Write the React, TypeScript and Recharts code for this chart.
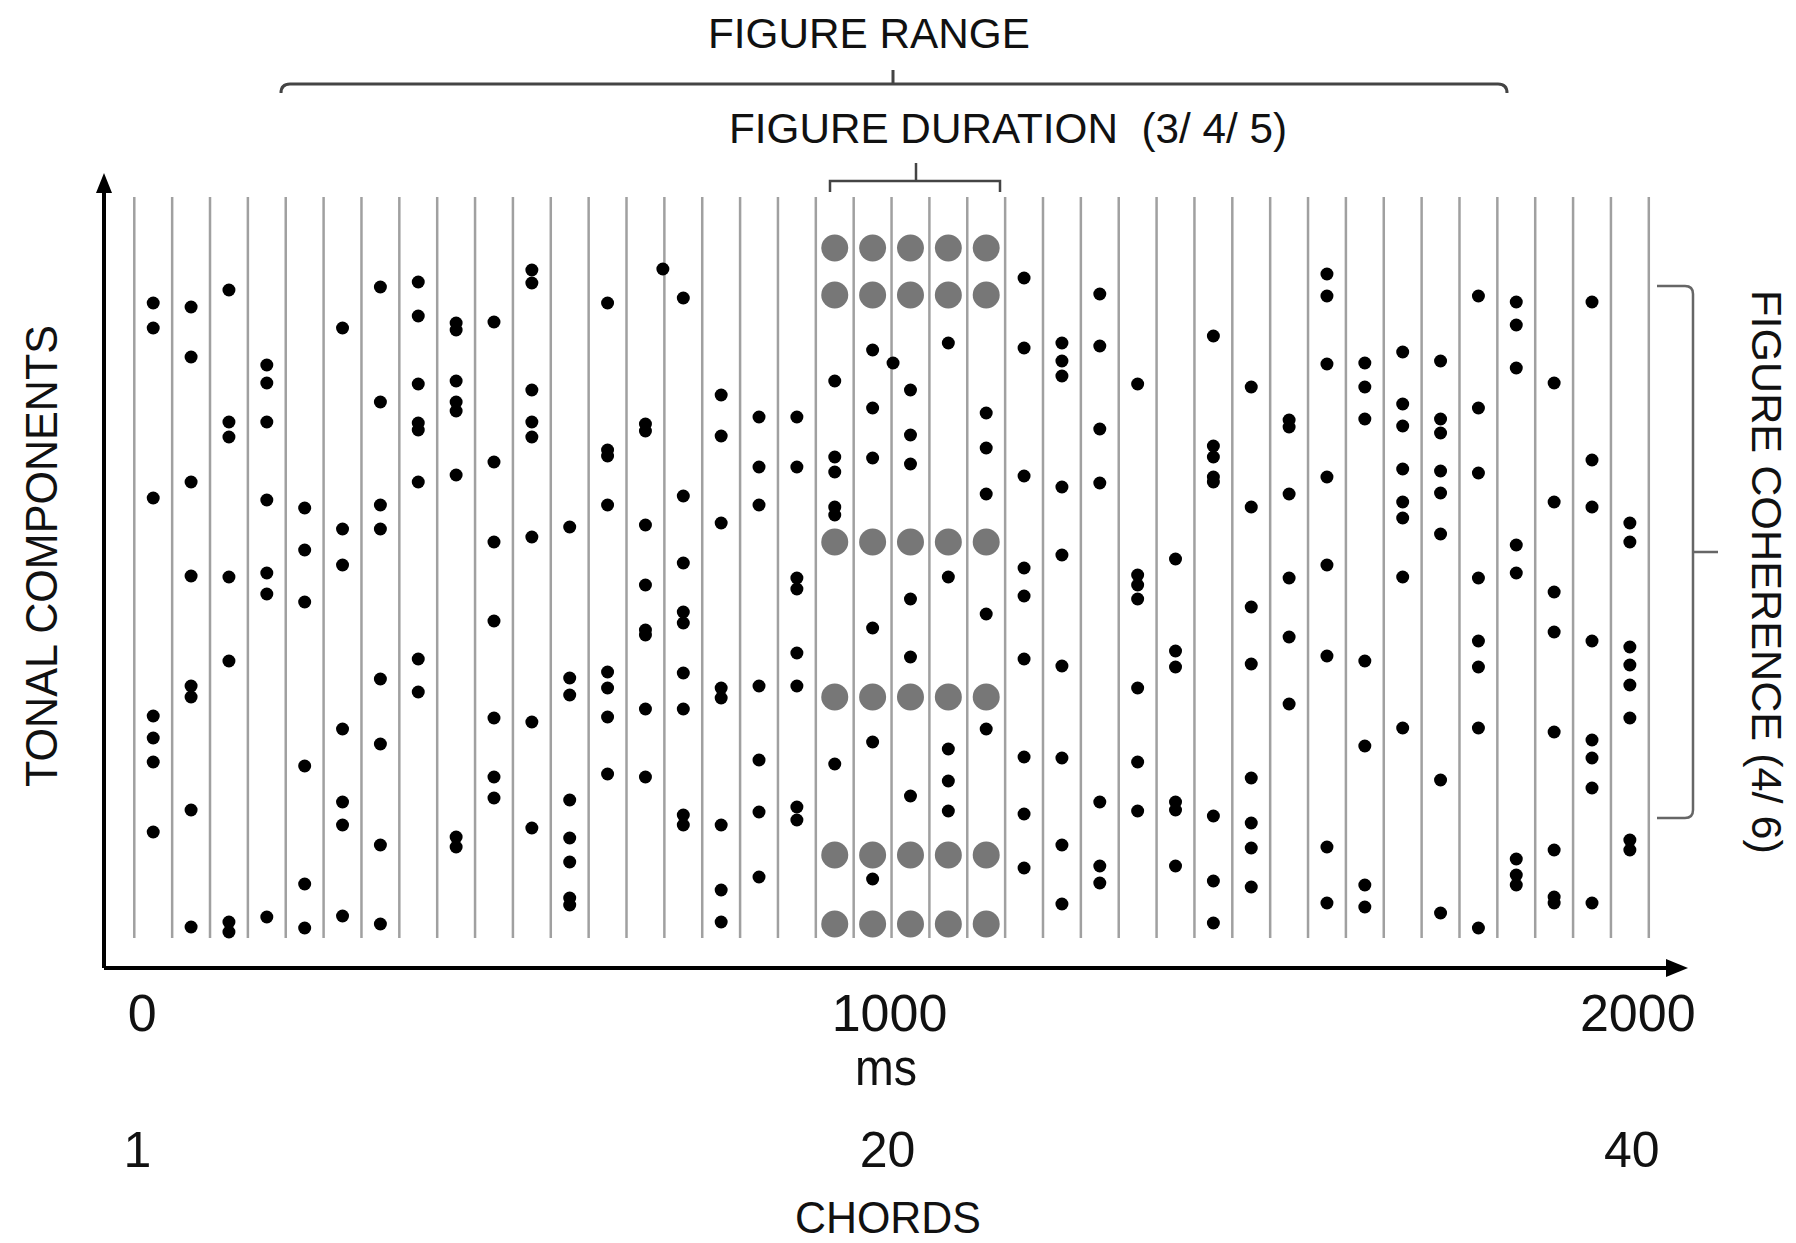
import React from 'react';
import { ScatterChart, Scatter, XAxis, YAxis, ReferenceLine } from 'recharts';

// ---- data (tonal component heights per chord, in arbitrary frequency units, 0 = time axis) ----
const chordDurationMs = 50;
const chordCount = 40;

const chordTones: number[][] = [
  [665, 640, 470, 252, 230, 206, 136], // 1
  [661, 611, 486, 392, 282, 271, 158, 41], // 2
  [678, 546, 531, 391, 307, 46, 36], // 3
  [603, 585, 546, 468, 395, 374, 51], // 4
  [460, 418, 366, 202, 84, 40], // 5
  [640, 439, 403, 239, 166, 143, 52], // 6
  [681, 566, 463, 439, 289, 224, 123, 44], // 7
  [686, 652, 584, 545, 538, 486, 309, 276], // 8
  [645, 638, 587, 566, 557, 493, 131, 121], // 9
  [646, 506, 426, 347, 250, 191, 170], // 10
  [698, 685, 578, 546, 531, 431, 246, 140], // 11
  [441, 290, 273, 168, 130, 106, 70, 63], // 12
  [665, 518, 512, 463, 296, 280, 251, 194], // 13
  [544, 537, 443, 383, 338, 333, 259, 191], // 14
  [670, 472, 405, 356, 345, 295, 259, 153, 143], // 15
  [573, 532, 445, 280, 270, 143, 78, 46], // 16
  [551, 501, 463, 282, 208, 156, 91], // 17
  [551, 501, 390, 379, 315, 282, 161, 148], // 18
  [587, 511, 496, 461, 453, 204], // 19
  [618, 560, 510, 340, 226, 89], // 20
  [578, 533, 504, 369, 311, 172], // 21
  [625, 391, 219, 187, 157], // 22
  [555, 520, 474, 354, 239], // 23
  [690, 620, 492, 400, 372, 309, 211, 154, 100], // 24
  [625, 607, 592, 481, 413, 302, 210, 123, 64], // 25
  [674, 622, 539, 485, 166, 102, 85], // 26
  [584, 393, 383, 369, 280, 206, 157], // 27
  [409, 317, 301, 166, 158, 102], // 28
  [632, 522, 511, 491, 486, 152, 87, 45], // 29
  [581, 461, 361, 304, 190, 145, 120, 81], // 30
  [548, 541, 474, 390, 331, 264], // 31
  [694, 672, 604, 491, 403, 312, 121, 65], // 32
  [605, 581, 549, 307, 222, 83, 61], // 33
  [616, 564, 542, 499, 466, 450, 391, 240], // 34
  [607, 549, 535, 497, 475, 434, 188, 55], // 35
  [672, 560, 495, 390, 327, 301, 240, 40], // 36
  [666, 643, 600, 423, 395, 109, 93, 83], // 37
  [585, 466, 376, 336, 236, 118, 71, 65], // 38
  [666, 508, 461, 327, 228, 210, 180, 65], // 39
  [445, 426, 321, 303, 283, 250, 128, 118], // 40
];

// tones drawn off the chord centre (time in ms, height)
const offCentreTimes = [698, 1002];
const offCentreTones = [699, 605];

// repeated figure
const figureChords = [19, 20, 21, 22, 23];
const figureTones = [720, 673, 426, 271, 113, 44];

// axis labels
const msTicks = [0, 1000, 2000];
const msTickLabels = ['0', '1000', '2000'];
const chordTickLabels = ['1', '20', '40'];

// ---- derived tables ----
const backgroundData = chordTones
  .flatMap((tones, i) => tones.map((v) => ({ t: (i + 0.5) * chordDurationMs, v })))
  .concat(offCentreTimes.map((t, i) => ({ t, v: offCentreTones[i] })));

const figureData = figureChords.flatMap((c) =>
  figureTones.map((v) => ({ t: (c - 0.5) * chordDurationMs, v }))
);

const chordBoundaries = Array.from({ length: chordCount + 1 }, (_, k) => k * chordDurationMs);

const FONT = '"Liberation Sans", Arial, Helvetica, sans-serif';
const msShift = [8, -2, -11];
const chordShift = [3, -4, -17];

function TimeChordTick(props: any) {
  const { x, payload } = props;
  const i = msTicks.indexOf(payload.value);
  if (i < 0) return null;
  return (
    <g>
      <text x={x + msShift[i]} y={1031} textAnchor="middle" fontSize={52} fontFamily={FONT} fill="#111">
        {msTickLabels[i]}
      </text>
      <text x={x + chordShift[i]} y={1167} textAnchor="middle" fontSize={50} fontFamily={FONT} fill="#111">
        {chordTickLabels[i]}
      </text>
    </g>
  );
}

const BlackDot = (p: any) => <circle cx={p.cx} cy={p.cy} r={6.5} fill="#000" />;
const GrayDot = (p: any) => <circle cx={p.cx} cy={p.cy} r={13.5} fill="#777" />;

export default function App() {
  return (
    <div style={{ position: 'absolute', left: 0, top: 0, width: 1796, height: 1243, background: '#fff' }}>
      <ScatterChart width={1796} height={1243} margin={{ top: 186, right: 126, bottom: 274, left: 103 }}>
        <XAxis
          type="number"
          dataKey="t"
          domain={[-40, 2028]}
          allowDataOverflow
          ticks={msTicks}
          tick={<TimeChordTick />}
          tickLine={false}
          axisLine={{ stroke: '#000', strokeWidth: 4 }}
          height={1}
        />
        <YAxis
          type="number"
          dataKey="v"
          domain={[0, 782]}
          allowDataOverflow
          tick={false}
          tickLine={false}
          axisLine={{ stroke: '#000', strokeWidth: 4 }}
          width={1}
        />
        {chordBoundaries.map((b) => (
          <ReferenceLine
            key={b}
            segment={[{ x: b, y: 30 }, { x: b, y: 771 }]}
            stroke="#a0a0a0"
            strokeWidth={2.5}
          />
        ))}
        <Scatter data={backgroundData} shape={BlackDot} isAnimationActive={false} />
        <Scatter data={figureData} shape={GrayDot} isAnimationActive={false} />
      </ScatterChart>
      <svg
        width={1796}
        height={1243}
        style={{ position: 'absolute', left: 0, top: 0, pointerEvents: 'none' }}
      >
        {/* axis arrowheads */}
        <polygon points="104,173 96,193 112,193" fill="#000" />
        <polygon points="1688,968 1666,959 1666,977" fill="#000" />

        {/* figure range */}
        <text x={869} y={48} textAnchor="middle" fontSize={42} fontFamily={FONT} fill="#111" textLength={322} lengthAdjust="spacingAndGlyphs">
          FIGURE RANGE
        </text>
        <path d="M281,93 Q281,84 290,84 L1498,84 Q1507,84 1507,93 M893,84 L893,70" stroke="#444" strokeWidth={3} fill="none" />

        {/* figure duration */}
        <text x={1008} y={143} textAnchor="middle" fontSize={42} fontFamily={FONT} fill="#111" textLength={558} lengthAdjust="spacingAndGlyphs" style={{ whiteSpace: 'pre' }}>
          {'FIGURE DURATION  (3/ 4/ 5)'}
        </text>
        <path d="M830,192 L830,181 L1000,181 L1000,192 M916,181 L916,163" stroke="#444" strokeWidth={2.5} fill="none" />

        {/* figure coherence */}
        <path d="M1657,286 L1685,286 Q1693,286 1693,294 L1693,810 Q1693,818 1685,818 L1657,818 M1693,552 L1718,552" stroke="#666" strokeWidth={2.5} fill="none" />
        <text
          x={1752}
          y={572}
          transform="rotate(90 1752 572)"
          textAnchor="middle"
          fontSize={42}
          fontFamily={FONT}
          fill="#111"
          textLength={564}
          lengthAdjust="spacingAndGlyphs"
        >
          FIGURE COHERENCE (4/ 6)
        </text>

        {/* y axis title */}
        <text
          x={57}
          y={556}
          transform="rotate(-90 57 556)"
          textAnchor="middle"
          fontSize={44}
          fontFamily={FONT}
          fill="#111"
          textLength={462}
          lengthAdjust="spacingAndGlyphs"
        >
          TONAL COMPONENTS
        </text>

        {/* x axis titles */}
        <text x={886} y={1085} textAnchor="middle" fontSize={52} fontFamily={FONT} fill="#111" textLength={62} lengthAdjust="spacingAndGlyphs">
          ms
        </text>
        <text x={888} y={1233} textAnchor="middle" fontSize={44} fontFamily={FONT} fill="#111" textLength={186} lengthAdjust="spacingAndGlyphs">
          CHORDS
        </text>
      </svg>
    </div>
  );
}
